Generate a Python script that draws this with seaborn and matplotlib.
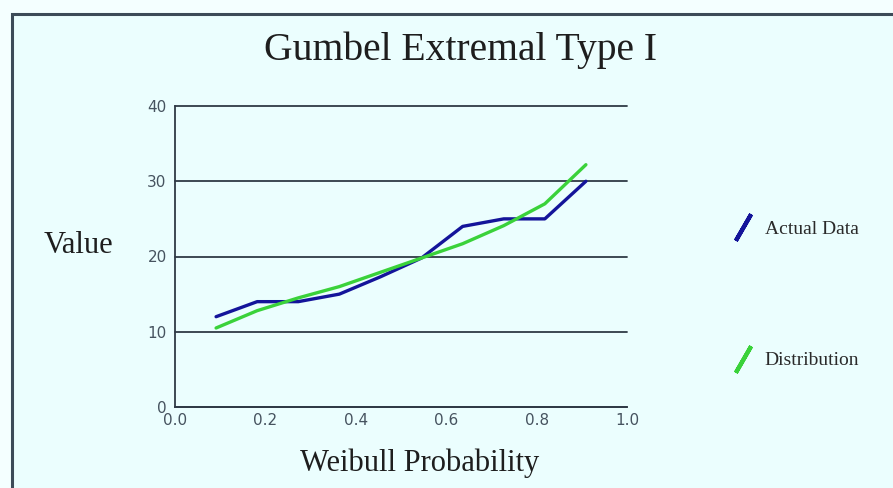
import matplotlib
matplotlib.use("Agg")
import matplotlib.pyplot as plt
from matplotlib.lines import Line2D
from matplotlib.patches import Rectangle
import numpy as np
import pandas as pd
import seaborn as sns

# Weibull plotting positions (m / (n + 1), n = 10)
probability = [0.0909, 0.1818, 0.2727, 0.3636, 0.4545, 0.5455, 0.6364, 0.7273, 0.8182, 0.9091]
actual_data = [12, 14, 14, 15, 17.3, 19.8, 24, 25, 25, 30]
distribution = [10.5, 12.8, 14.5, 16.0, 17.9, 19.8, 21.7, 24.1, 27.0, 32.2]
series_names = ["Actual Data", "Distribution"]
series_colors = ["#14149a", "#3ad23a"]

df = pd.concat([
    pd.DataFrame({"p": probability, "value": actual_data, "series": series_names[0]}),
    pd.DataFrame({"p": probability, "value": distribution, "series": series_names[1]}),
])

sns.set_style("white")
plt.rcParams["font.family"] = ["Liberation Serif", "DejaVu Serif"]

bg = "#ebfefe"
dark = "#2f3a46"
fig = plt.figure(figsize=(8.93, 4.88), dpi=100, facecolor="#f4ffff")
fig.patches.append(Rectangle((12 / 893, -0.2), 1.2, 1.2 - 14 / 488,
                             transform=fig.transFigure, facecolor=bg,
                             edgecolor="#3c4b58", linewidth=2.2, zorder=-1))

ax = fig.add_axes([175 / 893, 1 - 407 / 488, 452 / 893, 301 / 488])
ax.set_facecolor("none")

sns.lineplot(data=df, x="p", y="value", hue="series", palette=series_colors,
             linewidth=2.4, legend=False, ax=ax, zorder=3)

ax.set_xlim(0, 1.0)
ax.set_ylim(0, 40)
ax.set_xticks(np.arange(0, 1.01, 0.2))
ax.set_xticklabels([f"{t:.1f}" for t in np.arange(0, 1.01, 0.2)])
ax.set_yticks([0, 10, 20, 30, 40])
ax.yaxis.grid(True, color=dark, linewidth=1.3)
for gl in ax.get_ygridlines():
    gl.set_clip_on(False)
ax.set_axisbelow(True)
for s in ["top", "right"]:
    ax.spines[s].set_visible(False)
for s in ["left", "bottom"]:
    ax.spines[s].set_color(dark)
    ax.spines[s].set_linewidth(1.3)
ax.tick_params(axis="x", direction="inout", length=7, width=1.3, color=dark,
               labelsize=11, labelcolor="#46535f", pad=1)
ax.tick_params(axis="y", direction="out", length=5, width=1.3, color=dark,
               labelsize=11, labelcolor="#46535f", pad=1)
for lab in ax.get_xticklabels() + ax.get_yticklabels():
    lab.set_fontfamily("DejaVu Sans")

ax.set_xlabel("")
ax.set_ylabel("")
fig.text(460 / 893, 1 - 50 / 488, "Gumbel Extremal Type I", ha="center", va="center",
         fontsize=28.5, color="#1e1e1e")
fig.text(78 / 893, 1 - 246 / 488, "Value", ha="center", va="center",
         fontsize=22, color="#1e1e1e")
fig.text(420 / 893, 1 - 463 / 488, "Weibull Probability", ha="center", va="center",
         fontsize=22, color="#1e1e1e")

handles = [Line2D([], [], linestyle="none", marker=(2, 2, -30), markersize=22,
                  markeredgewidth=3, color=c) for c in series_colors]
fig.legend(handles, series_names, loc="upper left", bbox_to_anchor=(714 / 893, 1 - 203 / 488),
           frameon=False, labelspacing=5.85, handlelength=1.2, handletextpad=0.5,
           fontsize=14, labelcolor="#2a2a2a")

fig.savefig("out.png", dpi=100, facecolor=fig.get_facecolor())
